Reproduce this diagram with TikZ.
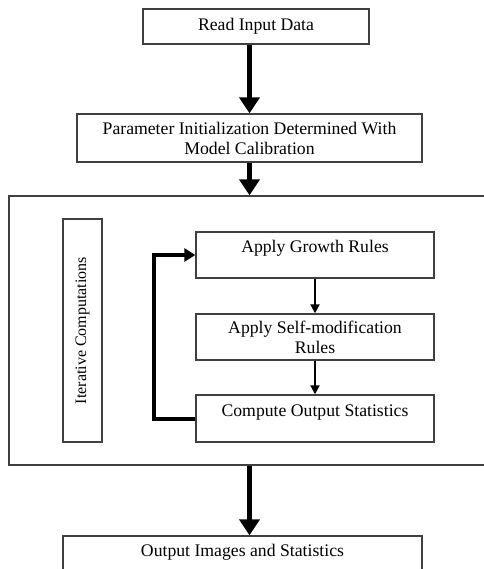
\documentclass[tikz,border=0pt]{standalone}
\usepackage{fontspec}
\setmainfont{Liberation Serif}
\usetikzlibrary{positioning, arrows.meta}

\begin{document}
\begin{tikzpicture}[x=1pt, y=1pt, node distance=82pt, on grid,
   box/.style={draw=black!75, line width=1.4pt, align=center, inner sep=0pt,
               font=\fontsize{17.7}{20}\selectfont},
   bigarrow/.style={line width=5.5pt, -{Triangle[width=20pt, length=16pt]}},
   smallarrow/.style={line width=2pt, -{Triangle[width=9pt, length=9pt]}},
   backarrow/.style={line width=4pt, -{Triangle[width=13pt, length=11pt]}}]
   \useasboundingbox (0,0) rectangle (483,-569);

   % main steps
   \node[box, minimum width=226pt, minimum height=35pt] (read) at (256,-26.5) {Read Input Data};
   \node[box, minimum width=345pt, minimum height=48pt] (param) at (249.5,-138)
        {Parameter Initialization Determined With\\Model Calibration};
   \node[box, minimum width=477pt, minimum height=269pt] (loop) at (247.5,-330.5) {};
   \node[box, minimum width=359pt, text height=20pt, text depth=24pt] (output) at (242.5,-558)
        {Output Images and Statistics};

   % iterative part
   \node[box, rotate=90, minimum width=223pt, minimum height=39pt,
         font=\fontsize{16}{19}\selectfont] (iter) at (82.5,-330.5) {Iterative Computations};
   \node[box, minimum width=238pt, text height=20pt, text depth=26pt] (grow) at (315,-255) {Apply Growth Rules};
   \node[box, minimum width=238pt, minimum height=46pt] (selfmod) [below=of grow]
        {Apply Self-modification\\Rules};
   \node[box, minimum width=238pt, text height=21pt, text depth=26pt] (compute) [below=81.5pt of selfmod]
        {Compute Output Statistics};

   % arrows
   \draw[bigarrow] (read.south -| param.north) -- (param.north);
   \draw[bigarrow] (param.south) -- (param.south |- loop.north);
   \draw[bigarrow] (param.south |- loop.south) -- (param.south |- output.north);
   \draw[smallarrow] (grow) -- (selfmod);
   \draw[smallarrow] (selfmod) -- (compute);
   \draw[backarrow] (compute.west) -- ++(-41,0) |- (grow.west);
\end{tikzpicture}
\end{document}
